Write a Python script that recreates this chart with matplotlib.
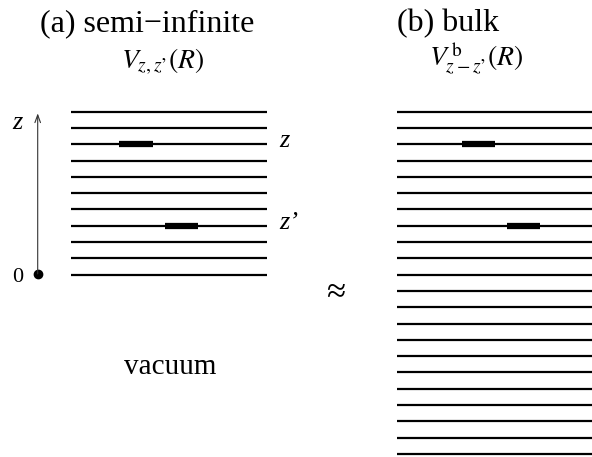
import matplotlib
matplotlib.use("Agg")
import matplotlib.pyplot as plt

plt.rcParams["mathtext.fontset"] = "stix"
SERIF = "Liberation Serif"

# layer indices (z); semi-infinite crystal ends at z = 0, bulk continues below
semi_layers = list(range(0, 11))
bulk_layers = list(range(-11, 11))

# horizontal extent of each slab (pixel-like x units)
semi_x = (71, 267)
bulk_x = (397, 592)

# highlighted atom pairs: (layer, x_start, x_end)
semi_pairs = [(8, 119, 153), (3, 165, 198)]
bulk_pairs = [(8, 462, 495), (3, 507, 540)]

W, H = 592, 457
Z0_PX, DZ_PX = 274.7, 16.3   # pixel row of z=0 and layer spacing

fig = plt.figure(figsize=(W / 100, H / 100), dpi=100)
ax = fig.add_axes([0, 0, 1, 1])
ax.set_xlim(0, W)
ax.set_ylim((Z0_PX - H) / DZ_PX, Z0_PX / DZ_PX)
ax.axis("off")


def zpx(px):
    """pixel row -> layer coordinate"""
    return (Z0_PX - px) / DZ_PX


for x0, x1, layers in [(*semi_x, semi_layers), (*bulk_x, bulk_layers)]:
    ax.hlines(layers, x0, x1, color="black", lw=1.6)

for pairs in (semi_pairs, bulk_pairs):
    for z, a, b in pairs:
        ax.plot([a, b], [z, z], color="black", lw=4.5, solid_capstyle="butt")

# z axis arrow with origin dot
ax.annotate("", xy=(37.7, 9.9), xytext=(37.7, 0.05),
            arrowprops=dict(arrowstyle="->,head_length=0.55,head_width=0.2",
                            color="#333333", lw=0.8, shrinkA=0, shrinkB=0))
ax.plot([37.7], [0.05], "o", color="black", ms=6)
ax.text(17, zpx(129), "z", family=SERIF, style="italic", fontsize=19,
        ha="center", va="baseline")
ax.text(18, zpx(282), "0", family=SERIF, fontsize=16, ha="center",
        va="baseline")

# layer labels
ax.text(279, zpx(147), "z", family=SERIF, style="italic", fontsize=19,
        ha="left", va="baseline")
ax.text(279, zpx(229), "z\u2019", family=SERIF, style="italic", fontsize=19,
        ha="left", va="baseline")

# titles
ax.text(147, zpx(24), "(a) semi\u2212infinite", family=SERIF, fontsize=23,
        ha="center", va="center")
ax.text(448, zpx(24), "(b) bulk", family=SERIF, fontsize=23,
        ha="center", va="center")
ax.text(163, zpx(62), "$V_{z,z\u2019}(R)$", fontsize=20, ha="center",
        va="center")
ax.text(476, zpx(59), "$V^{\\,\\mathrm{b}}_{z-z\u2019}(R)$", fontsize=20,
        ha="center", va="center")

ax.text(336, zpx(293), "\u2248", family=SERIF, fontsize=25, ha="center",
        va="center")
ax.text(170, zpx(367), "vacuum", family=SERIF, fontsize=21, ha="center",
        va="center")

fig.savefig("out.png", dpi=100)
